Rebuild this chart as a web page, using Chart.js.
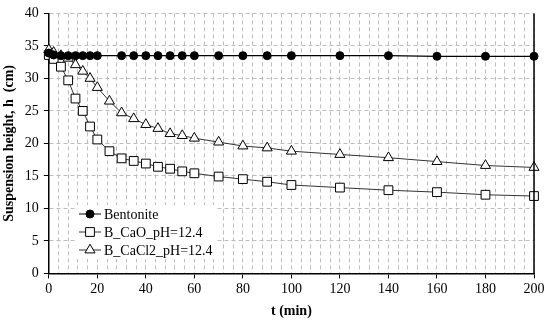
<!DOCTYPE html>
<html lang="en">
<head>
  <meta charset="UTF-8">
  <title>Suspension height</title>
  <style>
    html, body { margin: 0; padding: 0; background: #fff; }
    .box { width: 550px; height: 322px; position: relative; }
  </style>
</head>
<body>
  <div class="box">
    <canvas id="chartSuspensao"></canvas>
  </div>
  <script src="https://cdn.jsdelivr.net/npm/chart.js"></script>
  <script>
    // dados
    var tempos = [0, 2, 5, 8, 11, 14, 17, 20, 25, 30, 35, 40, 45, 50, 55, 60, 70, 80, 90, 100, 120, 140, 160, 180, 200];
    var bentonite = [33.9, 33.6, 33.5, 33.5, 33.5, 33.5, 33.5, 33.5, null, 33.5, 33.5, 33.5, 33.5, 33.5, 33.5, 33.5, 33.5, 33.5, 33.5, 33.5, 33.5, 33.5, 33.4, 33.4, 33.4];
    var caO = [33.6, 33.0, 31.8, 29.7, 26.9, 25.0, 22.6, 20.6, 18.8, 17.7, 17.3, 16.9, 16.4, 16.1, 15.7, 15.4, 14.9, 14.5, 14.1, 13.6, 13.2, 12.8, 12.5, 12.1, 11.9];
    var caCl2 = [34.4, 34.0, 33.5, 33.1, 32.1, 31.1, 30.0, 28.6, 26.5, 24.7, 23.8, 22.9, 22.3, 21.5, 21.2, 20.8, 20.2, 19.6, 19.3, 18.8, 18.3, 17.8, 17.2, 16.6, 16.3];
    var nomesSeries = ['Bentonite', 'B_CaO_pH=12.4', 'B_CaCl2_pH=12.4'];
    var xTicks = [0, 20, 40, 60, 80, 100, 120, 140, 160, 180, 200];
    var yTicks = [0, 5, 10, 15, 20, 25, 30, 35, 40];

    var fonte = "'Liberation Serif', 'Times New Roman', serif";

    function pontos(valores) {
      var lista = [];
      for (var i = 0; i < tempos.length; i++) {
        lista.push({ x: tempos[i], y: valores[i] });
      }
      return lista;
    }

    // legenda dentro da área do gráfico + borda direita
    var pluginExtra = {
      id: 'extra',
      afterDraw: function (chart) {
        var ctx = chart.ctx;
        var area = chart.chartArea;
        ctx.save();
        ctx.strokeStyle = '#000';
        ctx.lineWidth = 1.5;
        ctx.beginPath();
        ctx.moveTo(area.right, area.top);
        ctx.lineTo(area.right, area.bottom);
        ctx.stroke();

        var lx = 77, ly = 205;
        ctx.fillStyle = '#fff';
        ctx.fillRect(lx, ly, 140, 54);
        var sets = chart.data.datasets;
        for (var i = 0; i < sets.length; i++) {
          var yy = 214 + i * 18;
          ctx.strokeStyle = sets[i].borderColor;
          ctx.lineWidth = 1;
          ctx.beginPath();
          ctx.moveTo(79, yy);
          ctx.lineTo(101, yy);
          ctx.stroke();
          ctx.fillStyle = sets[i].pointBackgroundColor;
          ctx.strokeStyle = '#000';
          Chart.helpers.drawPoint(ctx, {
            pointStyle: sets[i].pointStyle,
            radius: sets[i].pointRadius,
            borderWidth: 1
          }, 90, yy);
          ctx.fillStyle = '#000';
          ctx.font = '14px ' + fonte;
          ctx.textBaseline = 'middle';
          ctx.textAlign = 'left';
          ctx.fillText(nomesSeries[i], 104, yy + 1);
        }
        ctx.restore();
      }
    };

    var grafico = new Chart(document.getElementById('chartSuspensao'), {
      type: 'line',
      data: {
        datasets: [{
          label: nomesSeries[0],
          data: pontos(bentonite),
          borderColor: '#000',
          borderWidth: 1.2,
          pointStyle: 'circle',
          pointRadius: 4,
          pointBackgroundColor: '#000',
          pointBorderColor: '#000',
          pointBorderWidth: 1,
          spanGaps: true,
          clip: false
        }, {
          label: nomesSeries[1],
          data: pontos(caO),
          borderColor: '#333',
          borderWidth: 1,
          pointStyle: 'rect',
          pointRadius: 6.2,
          pointBackgroundColor: '#fff',
          pointBorderColor: '#000',
          pointBorderWidth: 1,
          clip: false
        }, {
          label: nomesSeries[2],
          data: pontos(caCl2),
          borderColor: '#333',
          borderWidth: 1,
          pointStyle: 'triangle',
          pointRadius: 5.8,
          pointBackgroundColor: '#fff',
          pointBorderColor: '#000',
          pointBorderWidth: 1,
          clip: false
        }]
      },
      options: {
        responsive: true,
        maintainAspectRatio: false,
        animation: false,
        layout: { padding: { top: 4, right: 16, bottom: 2, left: 1 } },
        plugins: {
          legend: { display: false },
          tooltip: { enabled: false }
        },
        scales: {
          x: {
            type: 'linear',
            min: 0,
            max: 200,
            afterBuildTicks: function (axis) {
              var t = [];
              for (var v = 0; v <= 200; v += 4) t.push({ value: v });
              axis.ticks = t;
            },
            ticks: {
              autoSkip: false,
              maxRotation: 0,
              padding: 3,
              color: '#000',
              font: { family: fonte, size: 14 },
              callback: function (v) { return xTicks.indexOf(v) >= 0 ? String(v) : ''; }
            },
            grid: {
              color: '#bdbdbd',
              lineWidth: 1,
              tickLength: 5,
              tickColor: function (c) { return xTicks.indexOf(c.tick.value) >= 0 ? '#000' : 'rgba(0,0,0,0)'; }
            },
            border: { display: true, color: '#000', width: 1.5, dash: [4, 3] },
            title: {
              display: true,
              text: 't (min)',
              color: '#000',
              padding: { top: 2, bottom: 0 },
              font: { family: fonte, size: 14, weight: 'bold' }
            }
          },
          y: {
            min: 0,
            max: 40,
            afterBuildTicks: function (axis) {
              axis.ticks = yTicks.map(function (v) { return { value: v }; });
            },
            ticks: {
              padding: 5,
              color: '#000',
              font: { family: fonte, size: 14 }
            },
            grid: {
              color: '#bdbdbd',
              lineWidth: 1,
              tickLength: 5,
              tickColor: '#000'
            },
            border: { display: true, color: '#000', width: 1.5, dash: [4, 3] },
            title: {
              display: true,
              text: 'Suspension height, h  (cm)',
              color: '#000',
              padding: { top: 0, bottom: 2 },
              font: { family: fonte, size: 14, weight: 'bold' }
            }
          }
        }
      },
      plugins: [pluginExtra]
    });
  </script>
</body>
</html>
